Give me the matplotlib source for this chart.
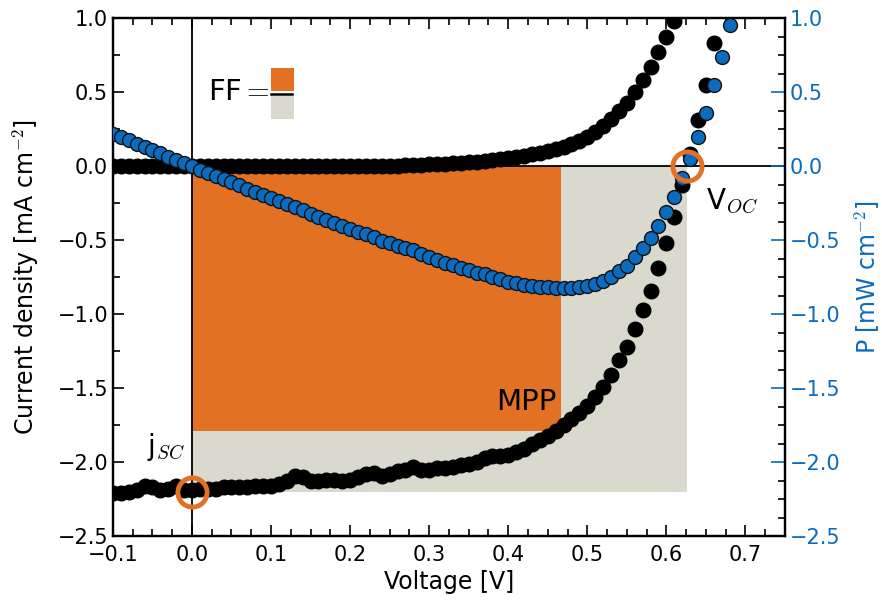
import numpy as np
import matplotlib
matplotlib.use('Agg')
import matplotlib.pyplot as plt
from matplotlib.patches import Rectangle
from matplotlib.ticker import MultipleLocator, AutoMinorLocator

plt.rcParams['mathtext.fontset'] = 'cm'

# Barrido de tensión (V), paso de 10 mV
voltaje = np.round(np.arange(-0.10, 0.685, 0.01), 2)

# Densidad de corriente bajo iluminación (mA cm^-2)
j_luz = [-2.21, -2.21, -2.20, -2.19, -2.16, -2.17, -2.19, -2.18, -2.16, -2.19,
         -2.19, -2.18, -2.18, -2.18, -2.17, -2.17, -2.17, -2.17, -2.16, -2.16,
         -2.16, -2.15, -2.13, -2.09, -2.10, -2.13, -2.13, -2.12, -2.12, -2.13,
         -2.12, -2.10, -2.08, -2.07, -2.09, -2.08, -2.06, -2.05, -2.03, -2.05,
         -2.05, -2.04, -2.04, -2.03, -2.02, -2.01, -2.00, -1.97, -1.96, -1.96,
         -1.95, -1.93, -1.91, -1.88, -1.85, -1.82, -1.79, -1.75, -1.71, -1.67,
         -1.62, -1.56, -1.49, -1.41, -1.31, -1.22, -1.10, -0.97, -0.84, -0.69,
         -0.52, -0.34, -0.13, 0.08, 0.31, 0.55, 0.83, 1.10, 1.40]

# Potencia (mW cm^-2)
potencia = [0.221, 0.199, 0.176, 0.153, 0.130, 0.109, 0.088, 0.065, 0.043, 0.022,
            0.000, -0.022, -0.044, -0.065, -0.087, -0.109, -0.130, -0.152, -0.173, -0.194,
            -0.216, -0.237, -0.256, -0.272, -0.294, -0.320, -0.341, -0.360, -0.382, -0.405,
            -0.424, -0.441, -0.458, -0.476, -0.502, -0.520, -0.536, -0.554, -0.568, -0.595,
            -0.615, -0.632, -0.653, -0.670, -0.687, -0.704, -0.720, -0.729, -0.745, -0.764,
            -0.780, -0.791, -0.802, -0.808, -0.814, -0.819, -0.823, -0.823, -0.821, -0.818,
            -0.810, -0.796, -0.775, -0.747, -0.707, -0.671, -0.616, -0.553, -0.487, -0.407,
            -0.312, -0.207, -0.081, 0.050, 0.198, 0.358, 0.548, 0.737, 0.952]

# Corriente en oscuridad (mA cm^-2), hasta 0.62 V
voltaje_osc = voltaje[:73]
j_osc = [0.0] * 36 + [0.005, 0.006, 0.008, 0.010, 0.012, 0.014, 0.016, 0.019, 0.022, 0.026,
                      0.030, 0.035, 0.040, 0.046, 0.053, 0.061, 0.070, 0.080, 0.091, 0.103,
                      0.117, 0.132, 0.150, 0.172, 0.200, 0.230, 0.270, 0.320, 0.370, 0.430,
                      0.500, 0.580, 0.670, 0.770, 0.870, 0.980, 1.100]

# Puntos característicos
v_oc = 0.626
j_sc = -2.20
v_mpp = 0.467
j_mpp = -1.79

naranja = '#e37124'
gris = '#dad9cd'
azul = '#0b6bbf'

fig, ax = plt.subplots(figsize=(8.82, 6.08), dpi=100)
fig.subplots_adjust(left=0.128, right=0.890, bottom=0.118, top=0.970)

# Rectángulos del factor de forma
ax.add_patch(Rectangle((0, j_sc), v_oc, -j_sc, color=gris, lw=0, zorder=1))
ax.add_patch(Rectangle((0, j_mpp), v_mpp, -j_mpp, color=naranja, lw=0, zorder=1.5))

ax.axhline(0, color='black', lw=1.3, zorder=2)
ax.axvline(0, color='black', lw=1.3, zorder=2)

ax.plot(voltaje_osc, j_osc, 'o', color='black', ms=10.5, zorder=3)
ax.plot(voltaje, j_luz, 'o', color='black', ms=10.5, zorder=3)

# FF = (naranja / gris)
ax.text(0.02, 0.5, 'FF$=$', fontsize=21, va='center', ha='left')
ax.add_patch(Rectangle((0.100, 0.507), 0.029, 0.155, color=naranja, lw=0))
ax.add_patch(Rectangle((0.100, 0.318), 0.029, 0.155, color=gris, lw=0))
ax.plot([0.100, 0.127], [0.49, 0.49], color='black', lw=1.8)

ax.text(0.461, -1.59, 'MPP', fontsize=21, ha='right', va='center')
ax.text(-0.008, -1.9, r'j$_{SC}$', fontsize=20, ha='right', va='center')
ax.text(0.650, -0.24, r'V$_{OC}$', fontsize=20, ha='left', va='center')

ax.set_xlim(-0.1, 0.75)
ax.set_ylim(-2.5, 1.0)
ax.xaxis.set_major_locator(MultipleLocator(0.1))
ax.xaxis.set_minor_locator(AutoMinorLocator(4))
ax.yaxis.set_major_locator(MultipleLocator(0.5))
ax.yaxis.set_minor_locator(AutoMinorLocator(2))
ax.tick_params(which='both', direction='in', top=True, right=False, labelsize=15, width=1.2)
ax.tick_params(which='major', length=8)
ax.tick_params(which='minor', length=5)
ax.tick_params(axis='x', which='major', pad=6)
for s in ax.spines.values():
    s.set_linewidth(1.6)
ax.set_xlabel('Voltage [V]', fontsize=17)
ax.set_ylabel('Current density [mA cm$^{-2}$]', fontsize=17, labelpad=12)

# Eje derecho: potencia
ax2 = ax.twinx()
ax2.plot(voltaje, potencia, 'o', color=azul, mec='#111111', mew=1.0, ms=10, zorder=3)
ax2.plot([0], [j_sc], 'o', mfc='none', mec=naranja, mew=3.5, ms=21, zorder=5)
ax2.plot([v_oc], [0], 'o', mfc='none', mec=naranja, mew=3.5, ms=21, zorder=5)
ax2.set_ylim(-2.5, 1.0)
ax2.yaxis.set_major_locator(MultipleLocator(0.5))
ax2.yaxis.set_minor_locator(AutoMinorLocator(4))
ax2.tick_params(axis='y', which='major', direction='in', length=10, width=1.2,
                color=azul, labelcolor=azul, labelsize=15)
ax2.tick_params(axis='y', which='minor', direction='in', length=5, width=1.2, color='black')
ax2.set_ylabel('P [mW cm$^{-2}$]', fontsize=17, color=azul, labelpad=8)
for s in ax2.spines.values():
    s.set_linewidth(1.6)

plt.savefig('out.png', dpi=100)
